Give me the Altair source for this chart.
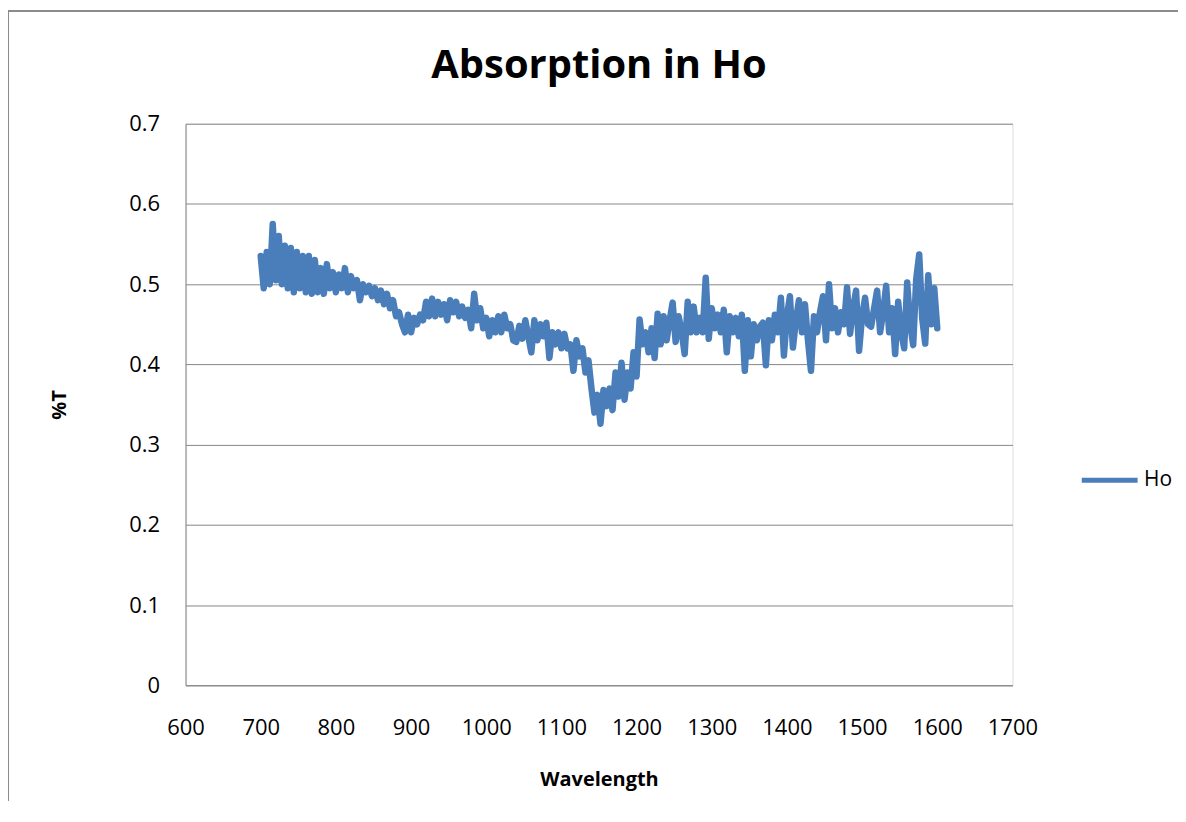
import altair as alt
import pandas as pd

# Transmittance readings (%T) every 4 nm, one list per 100 nm block
t_700 = [0.535, 0.495, 0.54, 0.50, 0.575, 0.505, 0.56, 0.50, 0.548, 0.495,
         0.545, 0.49, 0.54, 0.495, 0.535, 0.49, 0.535, 0.488, 0.53, 0.49,
         0.52, 0.488, 0.525, 0.495, 0.515]
t_800 = [0.49, 0.512, 0.495, 0.52, 0.49, 0.51, 0.495, 0.505, 0.48, 0.5,
         0.49, 0.498, 0.485, 0.495, 0.48, 0.492, 0.475, 0.488, 0.47, 0.48,
         0.46, 0.465, 0.45, 0.44, 0.462]
t_900 = [0.44, 0.458, 0.45, 0.462, 0.455, 0.478, 0.46, 0.482, 0.46, 0.478,
         0.462, 0.475, 0.455, 0.48, 0.465, 0.478, 0.46, 0.472, 0.458, 0.468,
         0.445, 0.488, 0.455, 0.47, 0.445]
t_1000 = [0.458, 0.435, 0.455, 0.44, 0.46, 0.44, 0.462, 0.445, 0.45, 0.43,
          0.428, 0.448, 0.432, 0.455, 0.435, 0.415, 0.455, 0.43, 0.45, 0.435,
          0.452, 0.408, 0.44, 0.425, 0.44]
t_1100 = [0.42, 0.438, 0.42, 0.425, 0.392, 0.43, 0.41, 0.42, 0.39, 0.405,
          0.37, 0.34, 0.362, 0.326, 0.368, 0.348, 0.37, 0.343, 0.39, 0.36,
          0.402, 0.356, 0.39, 0.37, 0.415]
t_1200 = [0.385, 0.456, 0.425, 0.44, 0.415, 0.445, 0.408, 0.463, 0.425, 0.46,
          0.43, 0.455, 0.477, 0.428, 0.46, 0.44, 0.413, 0.478, 0.44, 0.472,
          0.44, 0.458, 0.44, 0.508, 0.432]
t_1300 = [0.47, 0.445, 0.462, 0.44, 0.468, 0.415, 0.46, 0.44, 0.458, 0.435,
          0.462, 0.392, 0.455, 0.41, 0.45, 0.43, 0.447, 0.452, 0.399, 0.455,
          0.43, 0.462, 0.44, 0.483, 0.411]
t_1400 = [0.46, 0.485, 0.421, 0.455, 0.48, 0.44, 0.475, 0.43, 0.392, 0.46,
          0.44, 0.465, 0.485, 0.43, 0.5, 0.445, 0.47, 0.44, 0.465, 0.45,
          0.496, 0.438, 0.47, 0.492, 0.417]
t_1500 = [0.46, 0.483, 0.45, 0.447, 0.47, 0.492, 0.44, 0.465, 0.498, 0.44,
          0.47, 0.413, 0.478, 0.44, 0.42, 0.502, 0.45, 0.424, 0.506, 0.537,
          0.457, 0.426, 0.511, 0.45, 0.495, 0.445]

transmittance = t_700 + t_800 + t_900 + t_1000 + t_1100 + t_1200 + t_1300 + t_1400 + t_1500
wavelength = list(range(700, 1601, 4))
series = ["Ho"] * len(wavelength)

x_ticks = [600, 700, 800, 900, 1000, 1100, 1200, 1300, 1400, 1500, 1600, 1700]
y_ticks = [0, 0.1, 0.2, 0.3, 0.4, 0.5, 0.6, 0.7]

df = pd.DataFrame({"Wavelength": wavelength, "T": transmittance, "series": series})

FONT = "Open Sans"
GRID = "#878787"
BLUE = "#4a7ebb"

line = alt.Chart(df).mark_line(
    strokeWidth=6.5, strokeCap="round", strokeJoin="round"
).encode(
    x=alt.X(
        "Wavelength:Q",
        scale=alt.Scale(domain=[600, 1700], nice=False, zero=False),
        axis=alt.Axis(
            values=x_ticks, format="d", title="Wavelength", grid=False, ticks=False,
            labelOverlap=False, labelFlush=False,
            labelPadding=32, labelFontSize=22, labelColor="black", labelFont=FONT,
            domainColor=GRID, domainWidth=1,
            titleFont=FONT, titleFontSize=20, titleFontWeight="bold", titleColor="black",
            titleX=414.5, titleY=94, titleAlign="center", titleBaseline="middle",
        ),
    ),
    y=alt.Y(
        "T:Q",
        scale=alt.Scale(domain=[0, 0.7], nice=False),
        axis=alt.Axis(
            values=y_ticks, title="%T", grid=True, gridColor=GRID, gridWidth=1,
            labelOverlap=False, labelFlush=False,
            ticks=False, labelPadding=26, labelFontSize=22, labelColor="black", labelFont=FONT,
            labelExpr="datum.value == 0 ? '0' : format(datum.value, '.1f')",
            domainColor=GRID, domainWidth=1,
            titleFont=FONT, titleFontSize=20, titleFontWeight="bold", titleColor="black",
            titleX=-126, titleY=281.5, titleAlign="center", titleBaseline="middle", titleAngle=270,
        ),
    ),
    color=alt.Color(
        "series:N",
        scale=alt.Scale(range=[BLUE]),
        legend=alt.Legend(
            title=None, orient="none", legendX=896, legendY=327, padding=0,
            symbolType="stroke", symbolSize=3136, symbolStrokeWidth=5,
            labelFontSize=21, labelFont=FONT, labelColor="black", labelOffset=4,
        ),
    ),
)

frame_df = pd.DataFrame({"k": [0]})
frame_left = alt.Chart(frame_df).mark_rule(color="#8c8c8c", strokeWidth=2).encode(
    x=alt.value(-178), y=alt.value(-113), y2=alt.value(720)
)
frame_top = alt.Chart(frame_df).mark_rule(color="#8c8c8c", strokeWidth=2).encode(
    x=alt.value(-178), x2=alt.value(1010), y=alt.value(-113)
)

chart = alt.layer(frame_left, frame_top, line).properties(
    width=829,
    height=563,
    autosize=alt.AutoSizeParams(type="none"),
    padding={"left": 178, "top": 115, "right": 166, "bottom": 115},
    title=alt.Title(
        "Absorption in Ho", font=FONT, fontSize=40, fontWeight="bold",
        color="black", anchor="middle", offset=-76,
    ),
).configure_view(strokeWidth=0).configure(background="white")

chart.save("out.html", embed_options={"renderer": "svg", "actions": False})
